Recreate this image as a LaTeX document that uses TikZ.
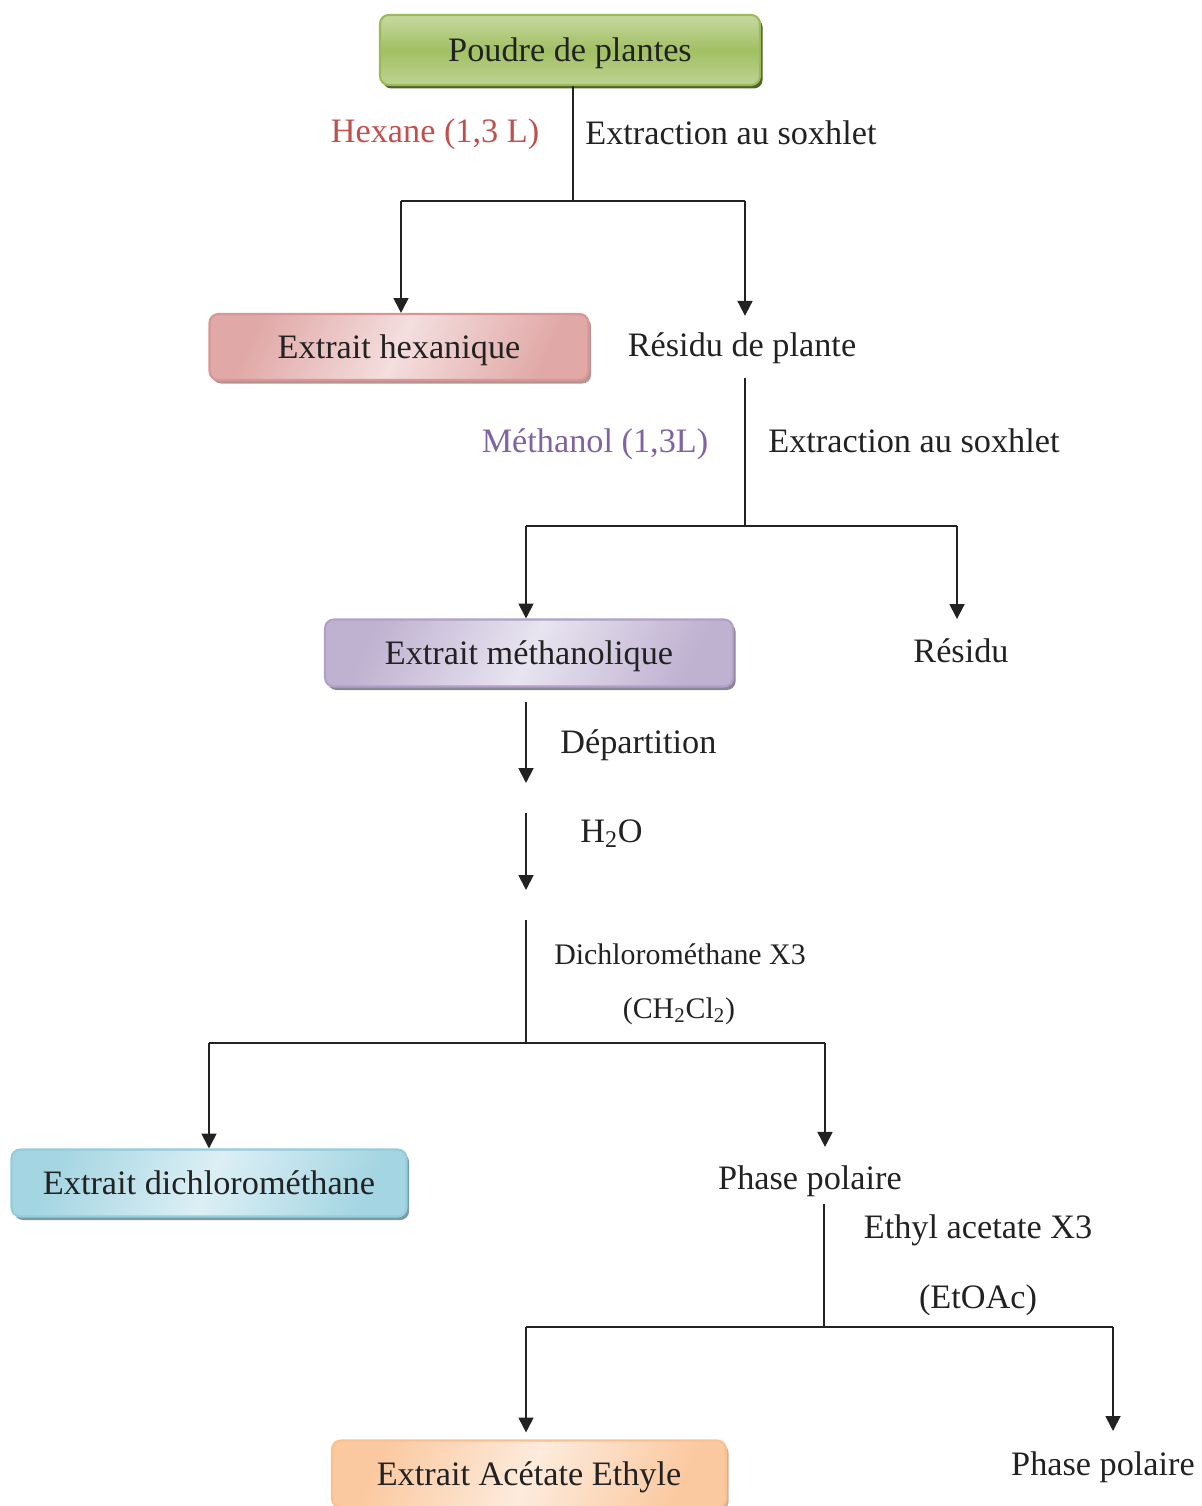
\documentclass[tikz,border=0pt]{standalone}
\usepackage{fontspec}
\setmainfont{Liberation Serif}
\usetikzlibrary{positioning,arrows.meta,shadows}
\definecolor{textegris}{RGB}{34,34,34}
\definecolor{hexanerouge}{RGB}{192,80,77}
\definecolor{methviolet}{RGB}{128,100,162}
\definecolor{vertfonce}{RGB}{155,187,89}
\definecolor{vertclair}{RGB}{198,217,160}
\definecolor{ombreverte}{RGB}{79,98,40}
\definecolor{rougebord}{RGB}{217,150,148}
\definecolor{rougeclair}{RGB}{244,222,222}
\definecolor{ombrerouge}{RGB}{178,150,150}
\definecolor{violetbord}{RGB}{178,161,199}
\definecolor{violetclair}{RGB}{232,228,240}
\definecolor{ombreviolette}{RGB}{140,132,152}
\definecolor{bleubord}{RGB}{146,205,220}
\definecolor{bleuclair}{RGB}{220,239,245}
\definecolor{ombrebleue}{RGB}{125,155,165}
\definecolor{orangebord}{RGB}{250,192,144}
\definecolor{orangeclair}{RGB}{253,235,220}
\definecolor{ombreorange}{RGB}{200,178,160}

\begin{document}
\begin{tikzpicture}[x=0.02cm,y=-0.02cm,
    font=\fontsize{19.5}{23}\selectfont,text=textegris,
    trait/.style={line width=1.1pt,textegris},
    fleche/.style={trait,-{Triangle[length=8.5pt,width=8.5pt]}},
    texte/.style={inner sep=0pt,text height=15.5pt,text depth=2.5pt},
    petit/.style={font=\fontsize{17}{20}\selectfont},
    boite/.style={rounded corners=5pt,line width=1.2pt,inner sep=0pt,
                  text height=15pt,text depth=2pt,minimum height=1.34cm},
    boiteverte/.style={boite,draw=vertfonce,top color=vertclair,
                  bottom color=vertclair!80!vertfonce,middle color=vertfonce!85!vertclair,
                  drop shadow={shadow xshift=1.5pt,shadow yshift=-2pt,
                               fill=ombreverte,opacity=1}},
    boiterouge/.style={boite,draw=rougebord,left color=rougebord!75!rougeclair,
                  right color=rougebord!75!rougeclair,middle color=rougeclair,shading angle=65,
                  drop shadow={shadow xshift=1.5pt,shadow yshift=-2pt,
                               fill=ombrerouge,opacity=1}},
    boiteviolette/.style={boite,draw=violetbord,left color=violetbord!75!violetclair,
                  right color=violetbord!75!violetclair,middle color=violetclair,shading angle=65,
                  drop shadow={shadow xshift=1.5pt,shadow yshift=-2pt,
                               fill=ombreviolette,opacity=1}},
    boitebleue/.style={boite,draw=bleubord,left color=bleubord!75!bleuclair,
                  right color=bleubord!75!bleuclair,middle color=bleuclair,shading angle=65,
                  drop shadow={shadow xshift=1.5pt,shadow yshift=-2pt,
                               fill=ombrebleue,opacity=1}},
    boiteorange/.style={boite,draw=orangebord,left color=orangebord!80!orangeclair,
                  right color=orangebord!80!orangeclair,middle color=orangeclair,shading angle=65,
                  drop shadow={shadow xshift=1.5pt,shadow yshift=-2pt,
                               fill=ombreorange,opacity=1}}]
    \useasboundingbox (0,0) rectangle (1201,1506);
    % Boites des extraits
    \node[boiteverte,minimum width=7.6cm,minimum height=1.4cm] (poudre) at (570,50) {Poudre de plantes};
    \node[boiterouge,minimum width=7.58cm,minimum height=1.32cm] (hexa) at (399,347) {Extrait hexanique};
    \node[boiteviolette,minimum width=8.16cm] (methanol) at (529,653) {Extrait méthanolique};
    \node[boitebleue,minimum width=7.9cm] (dcm) at (209,1183) {Extrait dichlorométhane};
    \node[boiteorange,minimum width=7.88cm] (acetate) at (529,1474) {Extrait Acétate Ethyle};
    % Textes
    \node[texte,hexanerouge] (hexane) at (435,131) {Hexane (1,3 L)};
    \node[texte,anchor=west] (sox1) at (585,133) {Extraction au soxhlet};
    \node[texte] (resplante) at (742,345) {Résidu de plante};
    \node[texte,methviolet] (meth) at (595,441) {Méthanol (1,3L)};
    \node[texte,anchor=west] (sox2) at (768,441) {Extraction au soxhlet};
    \node[texte] (residu) at (961,651) {Résidu};
    \node[texte,anchor=west] (depart) at (560,742) {Départition};
    \node[texte,anchor=west] (eau) at (580,831) {H\textsubscript{2}O};
    \node[texte,petit] (dichloro) at (680,953) {Dichlorométhane X3};
    \node[texte,petit] (chcl) at (679,1007) {(CH\textsubscript{2}Cl\textsubscript{2})};
    \node[texte] (phase1) at (810,1178) {Phase polaire};
    \node[texte] (ethyl) at (978,1227) {Ethyl acetate X3};
    \node[texte] (etoac) at (978,1297) {(EtOAc)};
    \node[texte] (phase2) at (1103,1464) {Phase polaire};
    % Premiere extraction
    \coordinate (j1) at (573,201);
    \coordinate (j1g) at (401,201);
    \coordinate (j1d) at (745,201);
    \draw[trait] (poudre.south -| j1) -- (j1);
    \draw[trait] (j1g) -- (j1d);
    \draw[fleche] (j1g) -- (j1g |- hexa.north);
    \draw[fleche,shorten >=7.4pt] (j1d) -- (j1d |- resplante.north);
    % Deuxieme extraction
    \coordinate (j2) at (745,526);
    \coordinate (j2g) at (526,526);
    \coordinate (j2d) at (957,526);
    \draw[trait,shorten <=9.5pt] (resplante.south -| j2) -- (j2);
    \draw[trait] (j2g) -- (j2d);
    \draw[fleche] (j2g) -- (j2g |- methanol.north);
    \draw[fleche,shorten >=9pt] (j2d) -- (j2d |- residu.north);
    % Partition
    \coordinate (f1a) at (526,702);
    \coordinate (f1b) at (526,783);
    \coordinate (f2a) at (526,813);
    \coordinate (f2b) at (526,890);
    \coordinate (f3a) at (526,920);
    \coordinate (j3) at (526,1043);
    \coordinate (j3g) at (209,1043);
    \coordinate (j3d) at (825,1043);
    \draw[fleche] (f1a) -- (f1b);
    \draw[fleche] (f2a) -- (f2b);
    \draw[trait] (f3a) -- (j3);
    \draw[trait] (j3g) -- (j3d);
    \draw[fleche] (j3g) -- (j3g |- dcm.north);
    \draw[fleche,shorten >=8.5pt] (j3d) -- (j3d |- phase1.north);
    % Acetate d'ethyle
    \coordinate (j4) at (824,1327);
    \coordinate (j4g) at (526,1327);
    \coordinate (j4d) at (1113,1327);
    \draw[trait,shorten <=5.7pt] (phase1.south -| j4) -- (j4);
    \draw[trait] (j4g) -- (j4d);
    \draw[fleche,shorten >=4pt] (j4g) -- (j4g |- acetate.north);
    \draw[fleche,shorten >=9.6pt] (j4d) -- (j4d |- phase2.north);
\end{tikzpicture}
\end{document}
